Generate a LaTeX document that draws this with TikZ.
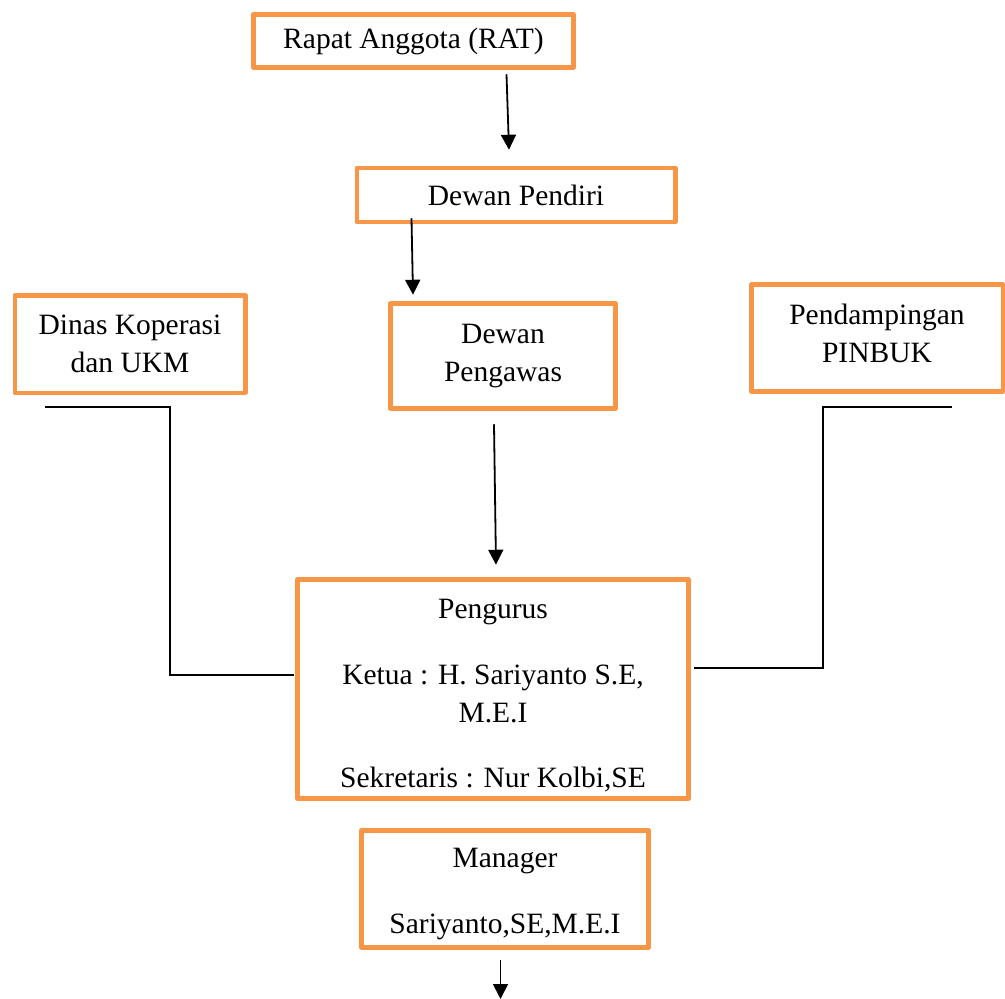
\documentclass[tikz,border=0pt]{standalone}
\usepackage{fontspec}
\setmainfont{Liberation Serif}
\usetikzlibrary{arrows.meta,calc}
\definecolor{boxorange}{HTML}{F79646}
\begin{document}
\begin{tikzpicture}[x=1pt,y=-1pt,
  orgbox/.style={draw=boxorange,line width=4.5pt,line join=round,fill=white,
    inner sep=0pt,align=center,font=\fontsize{29.5}{38}\selectfont},
  boxtext/.style={inner sep=0pt,align=center,font=\fontsize{29.5}{38}\selectfont},
  link/.style={draw=black,line width=1.8pt},
  arr/.style={link,-{Triangle[width=15pt,length=15pt]}}]
\useasboundingbox (0,0) rectangle (1005,999);

\node[orgbox,minimum width=320pt,minimum height=53pt] (rat) at (413.5,41) {Rapat Anggota (RAT)};
\node[orgbox,minimum width=318.5pt,minimum height=54pt] (pendiri) at (516,195) {Dewan Pendiri};
\node[orgbox,minimum width=225pt,minimum height=105pt] (pengawas) at (503,356) {Dewan\\Pengawas};
\node[orgbox,minimum width=230.5pt,minimum height=97.5pt] (dinas) at (130,344) {Dinas Koperasi\\dan UKM};

\node[orgbox,minimum width=251.5pt,minimum height=107pt] (pinbuk) at (877,338) {};
\node[boxtext] (pinbuktext) at (877,333) {Pendampingan\\PINBUK};

\node[orgbox,minimum width=391pt,minimum height=219pt] (pengurus) at (493,689) {};
\node[boxtext] (pengurustext) at (493,696)
  {Pengurus\\[28pt]Ketua : H. Sariyanto S.E,\\M.E.I\\[27pt]Sekretaris : Nur Kolbi,SE};

\node[orgbox,minimum width=287pt,minimum height=117pt] (manager) at (505,889) {};
\node[boxtext] (managertext) at (505,894) {Manager\\[28pt]Sariyanto,SE,M.E.I};

\coordinate (bottomend) at (500.5,999);
\coordinate (leftstart) at ($(dinas.south)+(-85,12.25)$);
\coordinate (rightstart) at ($(pinbuk.south)+(75,13.5)$);

\draw[arr] ($(rat.south)+(93,4.5)$) -- ($(pendiri.north)+(-7,-16)$);
\draw[arr] ($(pendiri.south)+(-104.5,-6)$) -- ($(pengawas.north)+(-90,-6.5)$);
\draw[arr] ($(pengawas.south)+(-9,13.5)$) -- ($(pengurus.north)+(3,-12.5)$);
\draw[arr] ($(manager.south)+(-4.5,10.5)$) -- (bottomend);

\draw[link] (leftstart) -| (170,675) -- ($(pengurus.west)+(-1.5,-14)$);
\draw[link] (rightstart) -| (823,668) -- ($(pengurus.east)+(3.5,-21)$);
\end{tikzpicture}
\end{document}
